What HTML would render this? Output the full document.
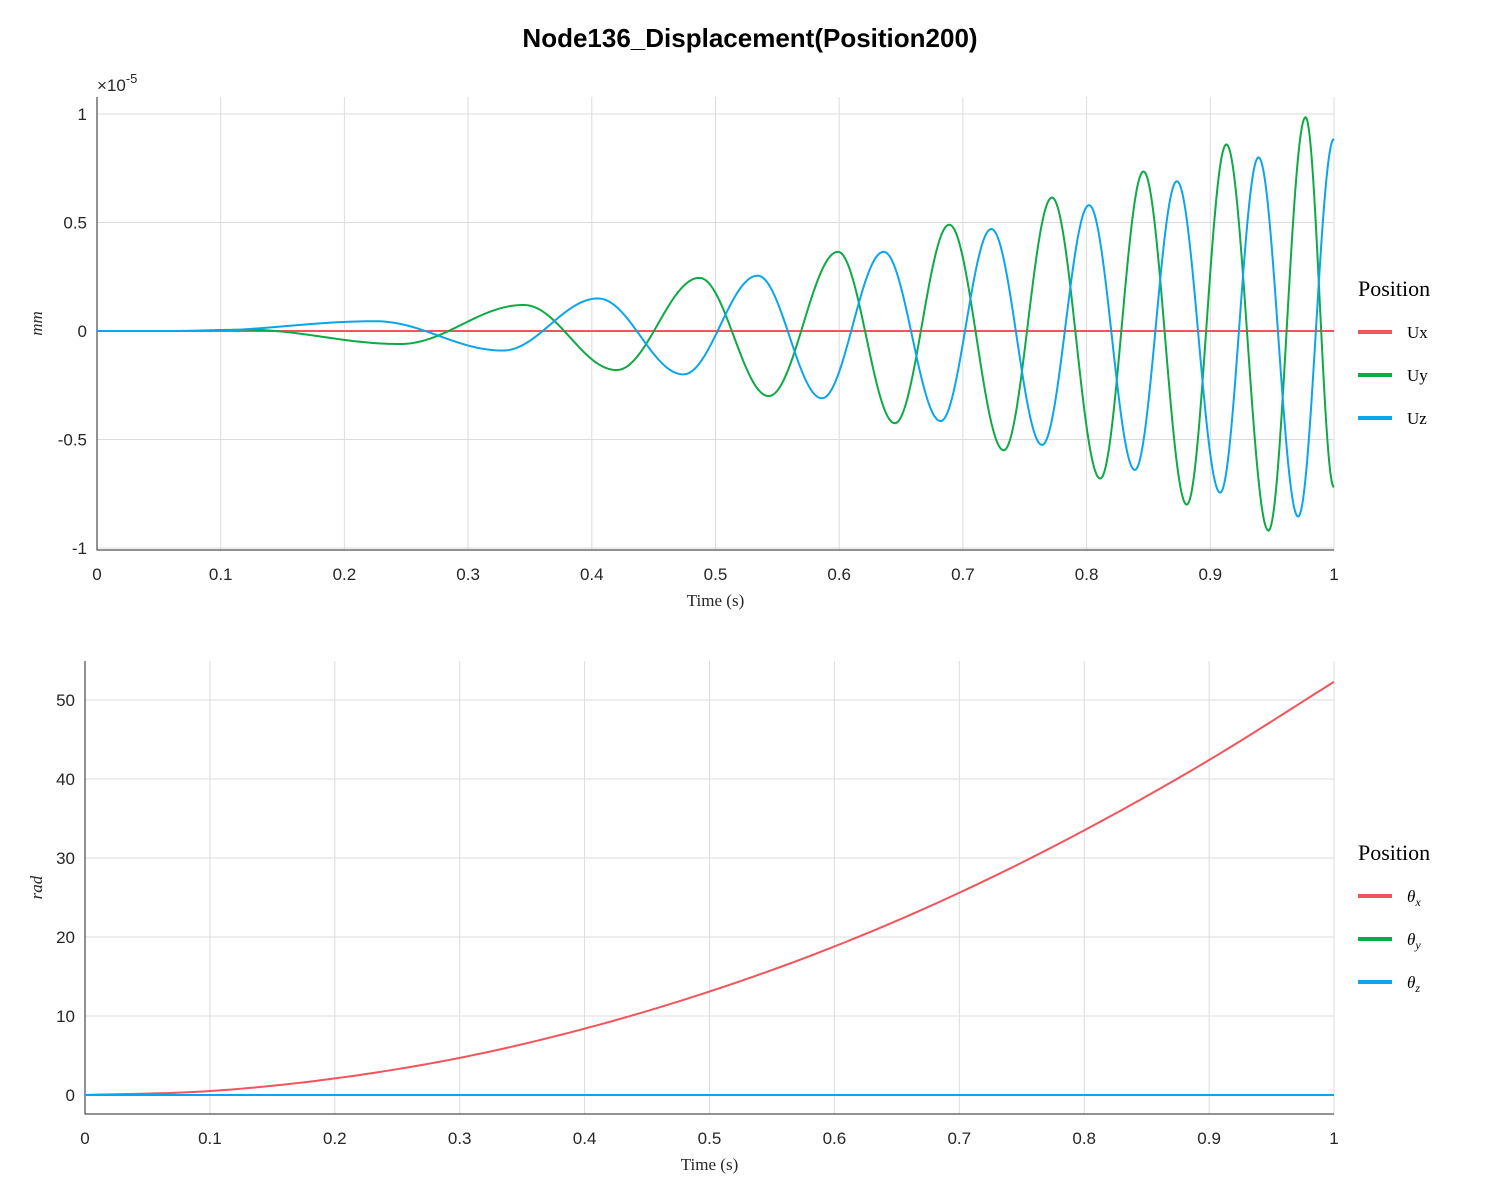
<!DOCTYPE html>
<html><head><meta charset="utf-8">
<style>
body{margin:0;background:#fff;}
svg{display:block;font-family:"Liberation Sans",sans-serif;}
.tick{font-size:17px;fill:#262626;}
.serif{font-family:"Liberation Serif",serif;}
</style></head>
<body>
<svg id="chart" width="1500" height="1200">
<rect width="1500" height="1200" fill="#fff"/>
<text x="750" y="47" text-anchor="middle" font-weight="bold" font-size="26" fill="#000">Node136_Displacement(Position200)</text>
<g id="top"></g>
<g id="bot"></g>
</svg>
<script>
// ---- data (top plot, values in units of 1e-5 mm) ----
const uxTimes = [0, 1];
const uxValues = [0, 0];
const uyTimes = [0, 0.06, 0.12, 0.245, 0.345, 0.42, 0.487, 0.543, 0.599, 0.645, 0.689, 0.733, 0.772, 0.811, 0.846, 0.881, 0.913, 0.947, 0.977, 1.0];
const uyValues = [0, 0, 0.006, -0.06, 0.12, -0.18, 0.245, -0.3, 0.365, -0.425, 0.49, -0.55, 0.615, -0.68, 0.735, -0.8, 0.86, -0.92, 0.985, -0.72];
const uzTimes = [0, 0.08, 0.225, 0.328, 0.405, 0.474, 0.534, 0.586, 0.636, 0.682, 0.723, 0.764, 0.802, 0.839, 0.873, 0.908, 0.939, 0.971, 1.0];
const uzValues = [0, 0, 0.045, -0.09, 0.15, -0.2, 0.255, -0.31, 0.365, -0.415, 0.47, -0.525, 0.58, -0.64, 0.69, -0.745, 0.8, -0.855, 0.885];
const topXTicks = [0,0.1,0.2,0.3,0.4,0.5,0.6,0.7,0.8,0.9,1];
const topXLabels = ["0","0.1","0.2","0.3","0.4","0.5","0.6","0.7","0.8","0.9","1"];
const topYTicks = [-1,-0.5,0,0.5,1];
const topYLabels = ["-1","-0.5","0","0.5","1"];
// ---- data (bottom plot, rad) ----
const thxTimes = [0,0.1,0.2,0.3,0.4,0.5,0.6,0.7,0.8,0.9,1];
const thxValues = [0,0.5,2.1,4.7,8.4,13.1,18.8,25.6,33.5,42.4,52.3];
const thyTimes = [0,1];
const thyValues = [0,0];
const thzTimes = [0,1];
const thzValues = [0,0];
const botYTicks = [0,10,20,30,40,50];
const botYLabels = ["0","10","20","30","40","50"];

const NS="http://www.w3.org/2000/svg";
function mk(parent,tag,attrs,text){const e=document.createElementNS(NS,tag);for(const k in attrs)e.setAttribute(k,attrs[k]);if(text!==undefined)e.textContent=text;parent.appendChild(e);return e;}
const RED="#f2545b",GREEN="#0daa45",BLUE="#0ba5ec";

function axes(g,L,R,T,B,x,y,yTicks,yLabels,yTitle){
  topXTicks.forEach((t,i)=>{
    const gl=mk(g,'line',{x1:x(t),x2:x(t),y1:T,y2:B,stroke:'#dcdcdc','stroke-width':1});
    
    
    const tl=mk(g,'text',{x:x(t),y:B+30,'text-anchor':'middle',class:'tick'},topXLabels[i]);
    
    
  });
  yTicks.forEach((v,i)=>{
    const gl=mk(g,'line',{x1:L,x2:R,y1:y(v),y2:y(v),stroke:'#dcdcdc','stroke-width':1});
    
    
    const tl=mk(g,'text',{x:L-10,y:y(v)+6,'text-anchor':'end',class:'tick'},yLabels[i]);
    
    
  });
  const ax=mk(g,'path',{d:`M${L},${T}V${B}H${R}`,fill:'none',stroke:'#262626','stroke-width':1});
  
  
  const xt=mk(g,'text',{x:(L+R)/2,y:B+56,'text-anchor':'middle','font-size':17,class:'serif',fill:'#262626'},'Time (s)');
  
  
  const yt=mk(g,'text',{x:0,y:0,'text-anchor':'middle','font-size':17,class:'serif','font-style':'italic',fill:'#262626',transform:`translate(42,${(T+B)/2}) rotate(-90)`},yTitle);
  
  
}
function cosPath(ts,vs,x,y){
  let d=`M${x(ts[0])},${y(vs[0])}`;
  for(let i=0;i<ts.length-1;i++){
    for(let k=1;k<=40;k++){const s=k/40;const t=ts[i]+(ts[i+1]-ts[i])*s;const v=vs[i]+(vs[i+1]-vs[i])*(1-Math.cos(Math.PI*s))/2;d+=`L${x(t).toFixed(2)},${y(v).toFixed(2)}`;}
  }
  return d;
}
function crPath(ts,vs,x,y){
  let d=`M${x(ts[0])},${y(vs[0])}`;const n=ts.length;
  for(let i=0;i<n-1;i++){
    const p1=vs[i],p2=vs[i+1];
    const p0=i>0?vs[i-1]:2*p1-p2;
    const p3=i+2<n?vs[i+2]:2*p2-p1;
    for(let k=1;k<=20;k++){const s=k/20;const v=0.5*((2*p1)+(-p0+p2)*s+(2*p0-5*p1+4*p2-p3)*s*s+(-p0+3*p1-3*p2+p3)*s*s*s);const t=ts[i]+(ts[i+1]-ts[i])*s;d+=`L${x(t).toFixed(2)},${y(v).toFixed(2)}`;}
  }
  return d;
}
function legend(g,y0,labels){
  const h=mk(g,'text',{x:1358,y:y0,'font-size':22,class:'serif',fill:'#000'},'Position');
  
  
  [RED,GREEN,BLUE].forEach((c,i)=>{
    const yy=y0+36+i*43;
    const ln=mk(g,'line',{x1:1358,x2:1392,y1:yy,y2:yy,stroke:c,'stroke-width':4});
    
    
    const t=mk(g,'text',{x:1407,y:yy+6,'font-size':17,class:'serif',fill:'#000'});
    t.innerHTML=labels[i];
    
    
  });
}
// top
(function(){
  const g=document.getElementById('top');
  const L=97,R=1334,T=97,B=550;
  const x=t=>L+(R-L)*t, y=v=>331-217*v;
  axes(g,L,R,T,B,x,y,topYTicks,topYLabels,'mm');
  const ex=mk(g,'text',{x:97,y:91,'font-size':17,fill:'#262626'});
  ex.innerHTML='×10<tspan dy="-8" font-size="13">-5</tspan>';
  
  
  const ux=mk(g,'path',{d:cosPath(uxTimes,uxValues,x,y),fill:'none',stroke:RED,'stroke-width':2});
  
  
  const uy=mk(g,'path',{d:cosPath(uyTimes,uyValues,x,y),fill:'none',stroke:GREEN,'stroke-width':2});
  
  
  const uz=mk(g,'path',{d:cosPath(uzTimes,uzValues,x,y),fill:'none',stroke:BLUE,'stroke-width':2});
  
  
  legend(g,296,['Ux','Uy','Uz']);
})();
// bottom
(function(){
  const g=document.getElementById('bot');
  const L=85,R=1334,T=661,B=1114;
  const x=t=>L+(R-L)*t, y=v=>1095-7.9*v;
  axes(g,L,R,T,B,x,y,botYTicks,botYLabels,'rad');
  const a=mk(g,'path',{d:crPath(thxTimes,thxValues,x,y),fill:'none',stroke:RED,'stroke-width':2});
  
  
  const b=mk(g,'path',{d:crPath(thyTimes,thyValues,x,y),fill:'none',stroke:GREEN,'stroke-width':2});
  
  
  const c=mk(g,'path',{d:crPath(thzTimes,thzValues,x,y),fill:'none',stroke:BLUE,'stroke-width':2});
  
  
  const s='<tspan font-style="italic">θ</tspan><tspan font-style="italic" font-size="12" dy="4">';
  legend(g,860,[s+'x</tspan>',s+'y</tspan>',s+'z</tspan>']);
})();
</script>
</body></html>
